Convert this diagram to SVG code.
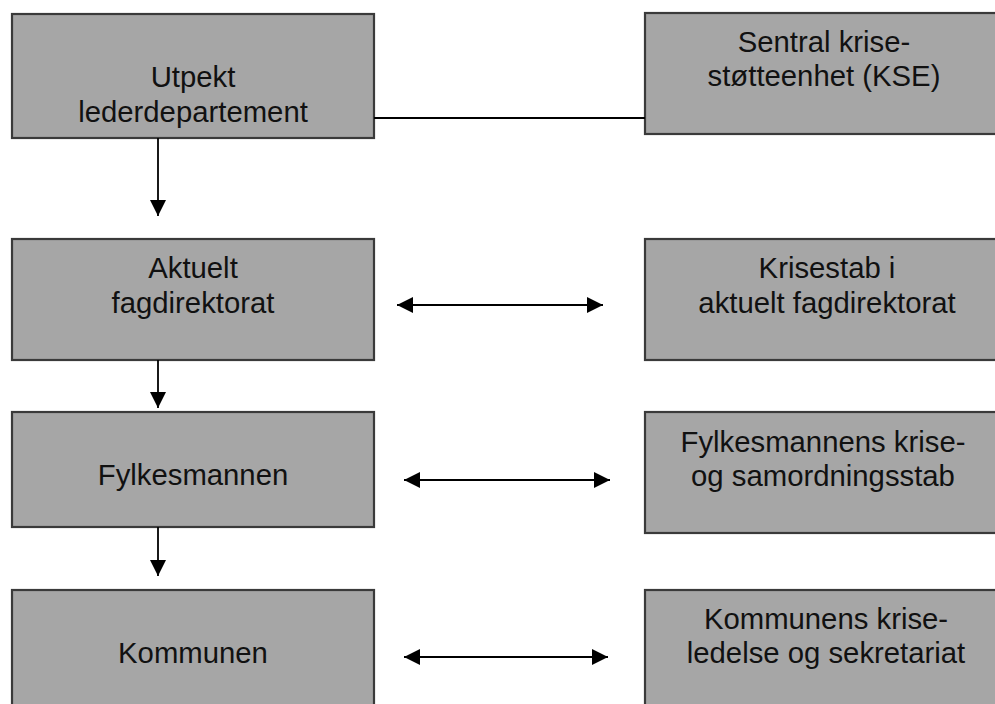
<svg xmlns="http://www.w3.org/2000/svg" width="995" height="704" viewBox="0 0 995 704">
  <style>
    .box { fill: #a6a6a6; stroke: #3a3a3a; stroke-width: 2.2; }
    .lbl { font-family: "Liberation Sans", Arial, sans-serif; font-size: 29.3px; fill: #111; text-anchor: middle; }
    .conn { stroke: #000; stroke-width: 1.8; fill: none; }
  </style>
  <defs>
    <marker id="ah" markerUnits="userSpaceOnUse" markerWidth="16" markerHeight="16" viewBox="0 0 16 16" refX="16" refY="8" orient="auto-start-reverse">
      <path d="M0,0 L16,8 L0,16 Z" fill="#000"/>
    </marker>
  </defs>
  <rect width="995" height="704" fill="#fff"/>

  <g id="n-utpekt">
    <rect class="box" x="12" y="14" width="362" height="124"/>
    <text class="lbl" x="193" y="87">Utpekt</text>
    <text class="lbl" x="193" y="122">lederdepartement</text>
  </g>
  <g id="n-kse">
    <rect class="box" x="645" y="13" width="362" height="121"/>
    <text class="lbl" x="824" y="52">Sentral krise-</text>
    <text class="lbl" x="824" y="86">støtteenhet (KSE)</text>
  </g>
  <g id="n-fagdir">
    <rect class="box" x="12" y="239" width="362" height="121"/>
    <text class="lbl" x="193" y="278">Aktuelt</text>
    <text class="lbl" x="193" y="313">fagdirektorat</text>
  </g>
  <g id="n-krisestab">
    <rect class="box" x="645" y="239" width="362" height="121"/>
    <text class="lbl" x="827" y="278">Krisestab i</text>
    <text class="lbl" x="827" y="313">aktuelt fagdirektorat</text>
  </g>
  <g id="n-fylkesmannen">
    <rect class="box" x="12" y="412" width="362" height="115"/>
    <text class="lbl" x="193" y="485">Fylkesmannen</text>
  </g>
  <g id="n-fm-stab">
    <rect class="box" x="645" y="412" width="362" height="121"/>
    <text class="lbl" x="823" y="452">Fylkesmannens krise-</text>
    <text class="lbl" x="823" y="486">og samordningsstab</text>
  </g>
  <g id="n-kommunen">
    <rect class="box" x="12" y="590" width="362" height="130"/>
    <text class="lbl" x="193" y="663">Kommunen</text>
  </g>
  <g id="n-kom-stab">
    <rect class="box" x="645" y="590" width="362" height="130"/>
    <text class="lbl" x="826" y="629">Kommunens krise-</text>
    <text class="lbl" x="826" y="663">ledelse og sekretariat</text>
  </g>

  <g id="connectors">
    <line class="conn" x1="374" y1="118" x2="645" y2="118" stroke-width="1.2"/>
    <line class="conn" x1="158" y1="138" x2="158" y2="216" marker-end="url(#ah)"/>
    <line class="conn" x1="158" y1="360" x2="158" y2="408" marker-end="url(#ah)"/>
    <line class="conn" x1="158" y1="527" x2="158" y2="576" marker-end="url(#ah)"/>
    <line class="conn" x1="397" y1="305" x2="603" y2="305" marker-start="url(#ah)" marker-end="url(#ah)"/>
    <line class="conn" x1="404" y1="480" x2="610" y2="480" marker-start="url(#ah)" marker-end="url(#ah)"/>
    <line class="conn" x1="404" y1="657" x2="608" y2="657" marker-start="url(#ah)" marker-end="url(#ah)"/>
  </g>
</svg>
